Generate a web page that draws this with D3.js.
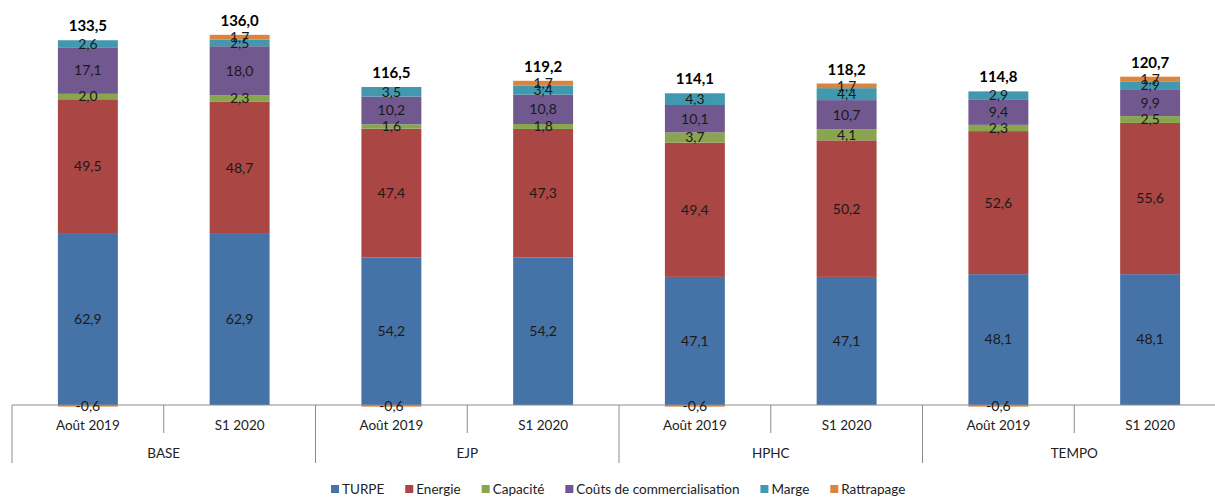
<!DOCTYPE html>
<meta charset="utf-8">
<script src="https://d3js.org/d3.v7.min.js"></script>
<style>
  body { margin: 0; background: #fff; }
  svg text { font-family: Lato, "Open Sans", sans-serif; }
</style>
<div id="my_dataviz"></div>
<script>

// data
var groups = ["BASE", "EJP", "HPHC", "TEMPO"];
var periods = ["Août 2019", "S1 2020"];
var seriesNames = ["TURPE", "Energie", "Capacité", "Coûts de commercialisation", "Marge", "Rattrapage"];
var colors = ["#4572A7", "#AA4643", "#89A54E", "#71588F", "#4198AF", "#DB843D"];

// one value per bar, in order BASE Août, BASE S1, EJP Août, ...
var turpe      = [62.9, 62.9, 54.2, 54.2, 47.1, 47.1, 48.1, 48.1];
var energie    = [49.5, 48.7, 47.4, 47.3, 49.4, 50.2, 52.6, 55.6];
var capacite   = [2.0, 2.3, 1.6, 1.8, 3.7, 4.1, 2.3, 2.5];
var couts      = [17.1, 18.0, 10.2, 10.8, 10.1, 10.7, 9.4, 9.9];
var marge      = [2.6, 2.5, 3.5, 3.4, 4.3, 4.4, 2.9, 2.9];
var rattrapage = [-0.6, 1.7, -0.6, 1.7, -0.6, 1.7, -0.6, 1.7];
var totals     = [133.5, 136.0, 116.5, 119.2, 114.1, 118.2, 114.8, 120.7];

var W = 1215, H = 497;
var svg = d3.select("#my_dataviz")
  .append("svg")
    .attr("width", W)
    .attr("height", H);

var cats = [];
groups.forEach(function(g) {
  periods.forEach(function(p) { cats.push(g + "|" + p); });
});
var values = [turpe, energie, capacite, couts, marge, rattrapage];

var data = cats.map(function(c, i) {
  var row = {key: c};
  seriesNames.forEach(function(s, j) { row[s] = values[j][i]; });
  row.total = totals[i];
  return row;
});

// scales
var x = d3.scaleBand()
  .domain(cats)
  .range([12, 1226])
  .padding(0);
var xg = d3.scaleBand()
  .domain(groups)
  .range([12, 1226])
  .padding(0);
var y = d3.scaleLinear()
  .domain([0, 148.9])
  .range([405, 0]);

var barW = x.bandwidth() * 0.395;
var fmt = function(v) { return d3.format(".1f")(v).replace(".", ",").replace("−", "-"); };

// stacked segments (positives go up, negatives go down)
var stack = d3.stack()
  .keys(seriesNames)
  .offset(d3.stackOffsetDiverging);
var layers = stack(data);

var layer = svg.selectAll("g.layer")
  .data(layers)
  .enter()
  .append("g")
    .attr("class", "layer")
    .attr("fill", function(d, i) { return colors[i]; });

layer.selectAll("rect")
  .data(function(d) { return d; })
  .enter()
  .append("rect")
    .attr("x", function(d) { return x(d.data.key) + (x.bandwidth() - barW) / 2; })
    .attr("y", function(d) { return y(Math.max(d[0], d[1])); })
    .attr("width", barW)
    .attr("height", function(d) { return Math.abs(y(d[0]) - y(d[1])); });

// axis line and category separators
svg.append("line")
  .attr("x1", x.range()[0]).attr("x2", x.range()[1])
  .attr("y1", y(0)).attr("y2", y(0))
  .attr("stroke", "#8c8c8c").attr("stroke-width", 1);

cats.forEach(function(c, i) {
  if (i % 2 === 1) {
    svg.append("line")
      .attr("x1", x(c)).attr("x2", x(c))
      .attr("y1", y(0)).attr("y2", 433)
      .attr("stroke", "#8c8c8c");
  }
});
groups.concat([null]).forEach(function(g, i) {
  var gx = g ? xg(g) : xg.range()[1];
  svg.append("line")
    .attr("x1", gx).attr("x2", gx)
    .attr("y1", y(0)).attr("y2", 463)
    .attr("stroke", "#8c8c8c");
});

// segment labels
layers.forEach(function(l) {
  svg.selectAll(null)
    .data(l)
    .enter()
    .append("text")
      .attr("x", function(d) { return x(d.data.key) + x.bandwidth() / 2; })
      .attr("y", function(d) { return y((d[0] + d[1]) / 2); })
      .attr("dy", "0.35em")
      .attr("text-anchor", "middle")
      .style("font-size", "14px")
      .attr("fill", "#1a1a1a")
      .text(function(d) { return fmt(d.data[l.key]); });
});

// total labels
svg.selectAll("text.total")
  .data(data)
  .enter()
  .append("text")
    .attr("class", "total")
    .attr("x", function(d) { return x(d.key) + x.bandwidth() / 2; })
    .attr("y", function(d) {
      var top = d3.sum(seriesNames, function(s) { return Math.max(0, d[s]); });
      return y(top) - 9;
    })
    .attr("text-anchor", "middle")
    .style("font-size", "15px")
    .style("font-weight", "bold")
    .attr("fill", "#000")
    .text(function(d) { return fmt(d.total); });

// category and group labels
svg.selectAll("text.cat")
  .data(cats)
  .enter()
  .append("text")
    .attr("class", "cat")
    .attr("x", function(d) { return x(d) + x.bandwidth() / 2; })
    .attr("y", 425)
    .attr("dy", "0.35em")
    .attr("text-anchor", "middle")
    .style("font-size", "13.5px")
    .attr("fill", "#222")
    .text(function(d) { return d.split("|")[1]; });

svg.selectAll("text.grp")
  .data(groups)
  .enter()
  .append("text")
    .attr("class", "grp")
    .attr("x", function(d) { return xg(d) + xg.bandwidth() / 2; })
    .attr("y", 453)
    .attr("dy", "0.35em")
    .attr("text-anchor", "middle")
    .style("font-size", "13.5px")
    .attr("fill", "#222")
    .text(function(d) { return d; });

// legend
var legend = svg.append("g").attr("transform", "translate(331,489)");
var lx = 0;
seriesNames.forEach(function(s, i) {
  var item = legend.append("g").attr("transform", "translate(" + lx + ",0)");
  item.append("rect")
    .attr("x", 0).attr("y", -4)
    .attr("width", 8).attr("height", 8)
    .attr("fill", colors[i]);
  var t = item.append("text")
    .attr("x", 11).attr("y", 0)
    .attr("dy", "0.35em")
    .style("font-size", "13.5px")
    .attr("fill", "#222")
    .text(s);
  lx += 11 + t.node().getComputedTextLength() + 21;
});

</script>
